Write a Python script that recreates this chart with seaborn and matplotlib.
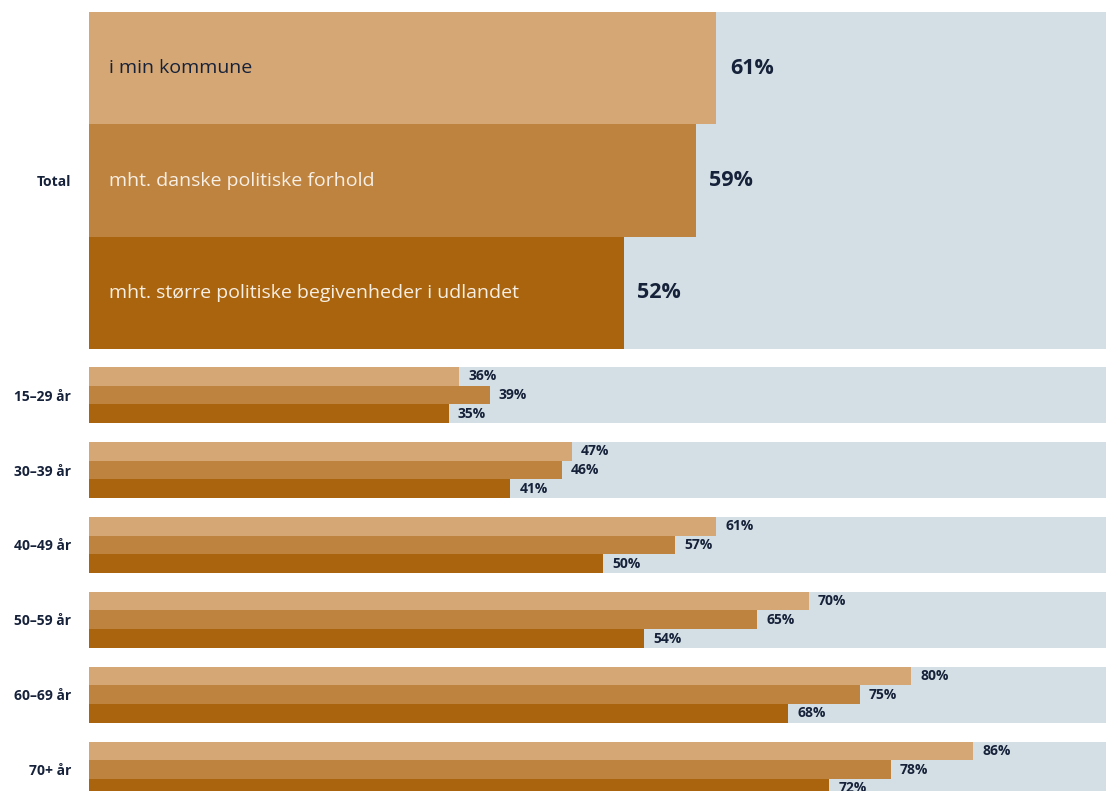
import matplotlib
matplotlib.use("Agg")
import matplotlib.pyplot as plt
import seaborn as sns
import pandas as pd

# Survey items (legend text is written inside the Total bars)
items = [
    "i min kommune",
    "mht. danske politiske forhold",
    "mht. større politiske begivenheder i udlandet",
]
total_values = [61, 59, 52]

age_groups = ["15–29 år", "30–39 år", "40–49 år", "50–59 år", "60–69 år", "70+ år"]
kommune = [36, 47, 61, 70, 80, 86]
danske = [39, 46, 57, 65, 75, 78]
udland = [35, 41, 50, 54, 68, 72]

colors = ["#D4A775", "#BF8340", "#AA640D"]
track = "#D3DFE4"
ink = "#16213A"

sns.set_theme(style="white")
plt.rcParams["font.family"] = ["Open Sans", "DejaVu Sans"]

W, H = 1106, 791
fig = plt.figure(figsize=(W / 100, H / 100), dpi=100)

left_px = 89
full_px = 1028  # pixel length of 100 %
xmax = (W - left_px) / full_px * 100


def px_axes(top, bottom):
    return fig.add_axes([left_px / W, 1 - bottom / H, 1 - left_px / W, (bottom - top) / H])


bar_kw = dict(saturation=1, linewidth=0, edgecolor="none")

# ---- Total block ----
ax1 = px_axes(12, 349)
df_total = pd.DataFrame({"group": ["Total"] * 3, "item": items, "value": total_values})
sns.barplot(y=["Total"], x=[100], color=track, width=1.0, ax=ax1, **bar_kw)
sns.barplot(data=df_total, y="group", x="value", hue="item", hue_order=items,
            palette=colors, width=1.0, dodge=True, legend=False, ax=ax1, **bar_kw)
ax1.set_ylim(0.5, -0.5)

for cont, v in zip(ax1.containers[1:], total_values):
    ax1.bar_label(cont, labels=[f"{v}%"], padding=10, fontsize=15.5,
                  fontweight="bold", color=ink)

text_colors = [ink, "#F7EFE4", "#F7EFE4"]
for cont, name, tc in zip(ax1.containers[1:], items, text_colors):
    p = cont.patches[0]
    ax1.text(20 / full_px * 100, p.get_y() + p.get_height() / 2, name,
             va="center", ha="left", fontsize=14, color=tc)

# ---- Age groups ----
ax2 = px_axes(367, 791)
rows = []
for name, vals in zip(items, [kommune, danske, udland]):
    for g, v in zip(age_groups, vals):
        rows.append({"group": g, "item": name, "value": v})
df_age = pd.DataFrame(rows)

sns.barplot(y=age_groups, x=[100] * len(age_groups), color=track, width=0.75,
            ax=ax2, **bar_kw)
sns.barplot(data=df_age, y="group", x="value", hue="item", hue_order=items,
            order=age_groups, palette=colors, width=0.75,
            dodge=True, legend=False, ax=ax2, **bar_kw)
ax2.set_ylim(5.285, -0.375)

for cont, vals in zip(ax2.containers[1:], [kommune, danske, udland]):
    ax2.bar_label(cont, labels=[f"{v}%" for v in vals], padding=6.5,
                  fontsize=10, fontweight="bold", color=ink)

for ax in (ax1, ax2):
    ax.set_xlim(0, xmax)
    ax.set_xlabel("")
    ax.set_ylabel("")
    ax.set_xticks([])
    ax.tick_params(axis="y", length=0, pad=13, labelsize=10)
    for lab in ax.get_yticklabels():
        lab.set_fontweight("bold")
        lab.set_color(ink)
    sns.despine(ax=ax, left=True, bottom=True)
    ax.patch.set_alpha(0)

fig.savefig("out.png", dpi=100)
